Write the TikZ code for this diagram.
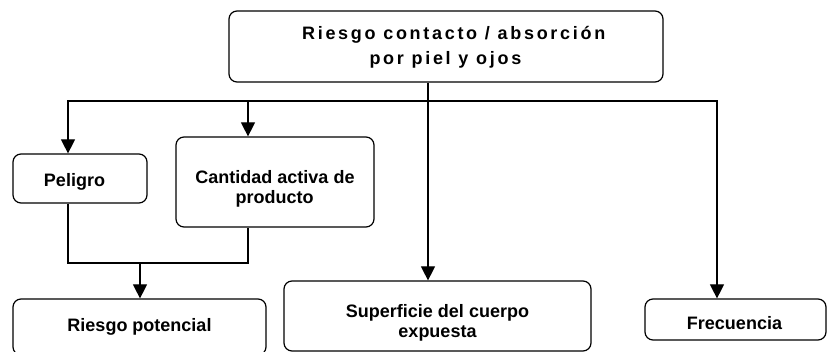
\documentclass[tikz,border=0pt]{standalone}
\usepackage{fontspec}
\setmainfont{Liberation Sans}
\usetikzlibrary{arrows.meta}
\begin{document}
\begin{tikzpicture}[x=0.75pt,y=-0.75pt,
  box/.style={draw, line width=0.9pt, rounded corners=6pt, inner sep=0pt},
  txt/.style={anchor=base, inner sep=0pt, font=\bfseries\fontsize{13.5}{16}\selectfont},
  spaced/.style={anchor=base, inner sep=0pt,
    font=\bfseries\fontsize{13.5}{16}\selectfont\addfontfeatures{LetterSpace=15}},
  conn/.style={line width=0.9pt},
  arr/.style={conn, -{Triangle[length=10.5pt,width=10.5pt]}}]
\useasboundingbox (0,0) rectangle (829,352);
% boxes
\node[box, minimum width=325.5pt, minimum height=53.25pt] (top) at (446,46.5) {};
\node[box, minimum width=100.5pt, minimum height=36.75pt] (peligro) at (80,178.5) {};
\node[box, minimum width=148.5pt, minimum height=67.5pt] (cantidad) at (275,182) {};
\node[box, minimum width=189.75pt, minimum height=42pt] (riesgo) at (139.5,327) {};
\node[box, minimum width=230.25pt, minimum height=52.5pt] (superficie) at (437.5,316) {};
\node[box, minimum width=135.75pt, minimum height=30.75pt] (frecuencia) at (735.5,319.5) {};
% texts
\node[spaced] (topA) at (453.7,40) {Riesgo contacto / absorción};
\node[spaced] (topB) at (445.4,65) {por piel y ojos};
\node[txt] (peligroT) at (74.5,186.5) {Peligro};
\node[txt] (cantidadA) at (275,184) {Cantidad activa de};
\node[txt] (cantidadB) at (274.5,203.5) {producto};
\node[txt] (riesgoT) at (139.5,332) {Riesgo potencial};
\node[txt] (superficieA) at (437.5,318) {Superficie del cuerpo};
\node[txt] (superficieB) at (437.5,338) {expuesta};
\node[txt] (frecuenciaT) at (734.5,329.5) {Frecuencia};
% connectors
\coordinate (busL) at (68,101);
\coordinate (busC) at (248,101);
\coordinate (busR) at (717,101);
\coordinate (vx) at (428,0);
\coordinate (joinL) at (68,263);
\coordinate (joinR) at (248,263);
\coordinate (joinM) at (140,263);
\draw[arr] (top.south -| vx) -- (superficie.north -| vx);
\draw[arr] (busC) -- (busL) -- (busL |- peligro.north);
\draw[arr] (busC) -- (busR) -- (busR |- frecuencia.north);
\draw[arr] (busC) -- (busC |- cantidad.north);
\draw[conn] (peligro.south -| joinL) -- (joinL) -- (joinR) -- (cantidad.south -| joinR);
\draw[arr] (joinM) -- (joinM |- riesgo.north);
\end{tikzpicture}
\end{document}
